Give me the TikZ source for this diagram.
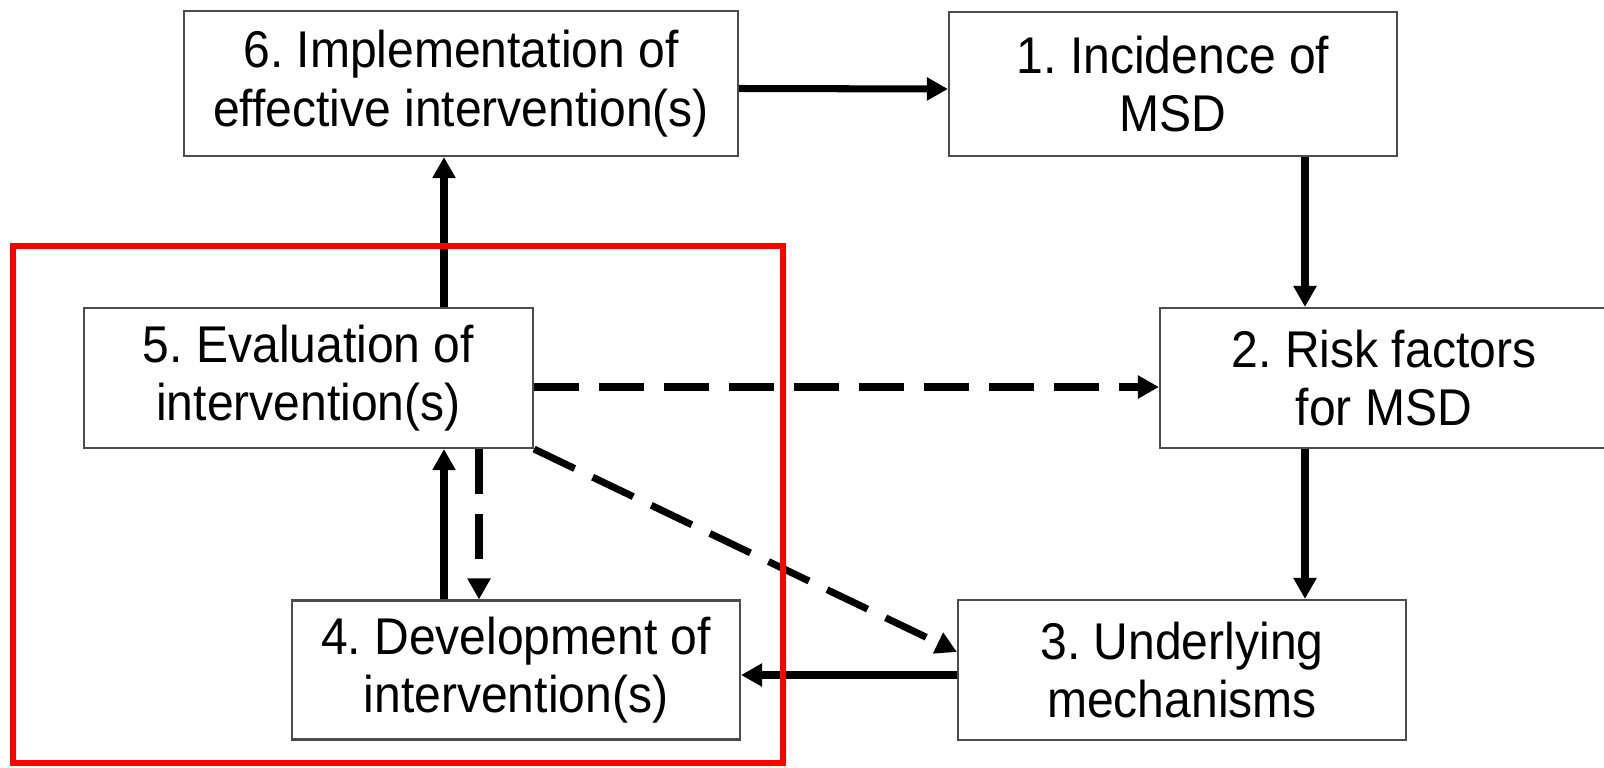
\documentclass[tikz,border=0pt]{standalone}
\usepackage{fontspec}
\setmainfont[FakeStretch=0.93]{Liberation Sans}
\usetikzlibrary{calc}
\usetikzlibrary{arrows.meta}
\frenchspacing
\newcommand{\stagebox}[6]{\node[shape=rectangle,draw=black!70,line width=0.6pt,fill=white,align=center,inner sep=0pt,minimum width=#4cm,minimum height=#5cm,font=\fontsize{14.7}{16.6}\selectfont] (#1) at ( #2 , #3 ) {#6};}
\tikzset{flow/.style={line width=2pt,-{Triangle[length=0.21cm,width=0.22cm]}},
  maybe/.style={flow,dash pattern=on 0.45cm off 0.2cm}}

\begin{document}
\begin{tikzpicture}
        \useasboundingbox (0,0) rectangle (16.04,7.67);

        % top row
        \stagebox{impl}{4.61}{6.835}{5.54}{1.45}{6. Implementation of\\effective intervention(s)}
        \stagebox{inc}{11.73}{6.83}{4.48}{1.44}{1. Incidence of\\MSD}

        % middle row
        \stagebox{eval}{3.085}{3.89}{4.49}{1.40}{5. Evaluation of\\intervention(s)}
        \stagebox{risk}{13.84}{3.89}{4.48}{1.40}{2. Risk factors\\for MSD}

        % bottom row
        \stagebox{dev}{5.16}{0.97}{4.48}{1.39}{4. Development of\\intervention(s)}
        \stagebox{mech}{11.82}{0.97}{4.48}{1.40}{3. Underlying\\mechanisms}

        % columns of the vertical arrows
        \coordinate (up) at (4.44,0);
        \coordinate (down) at (4.79,0);
        \coordinate (right) at (13.05,0);

        % solid cycle
        \draw[flow] ($(impl.east)+(0,-0.05)$) -- ($(inc.west)+(0,-0.05)$);
        \draw[flow] (inc.south -| right) -- (risk.north -| right);
        \draw[flow] (risk.south -| right) -- (mech.north -| right);
        \draw[flow] ($(mech.west)+(0,-0.05)$) -- ($(dev.east)+(0,-0.05)$);
        \draw[flow] (dev.north -| up) -- (eval.south -| up);
        \draw[flow] (eval.north -| up) -- (impl.south -| up);

        % dashed links
        \draw[maybe] (eval.south -| down) -- (dev.north -| down);
        \draw[maybe] ($(eval.east)+(0,-0.09)$) -- ($(risk.west)+(0,-0.09)$);
        \draw[maybe] (eval.south east) -- ($(mech.west)+(0,0.18)$);

        % frame
        \draw[red,line width=1.5pt] (0.13,0.04) rectangle (7.83,5.21);
\end{tikzpicture}
\end{document}
